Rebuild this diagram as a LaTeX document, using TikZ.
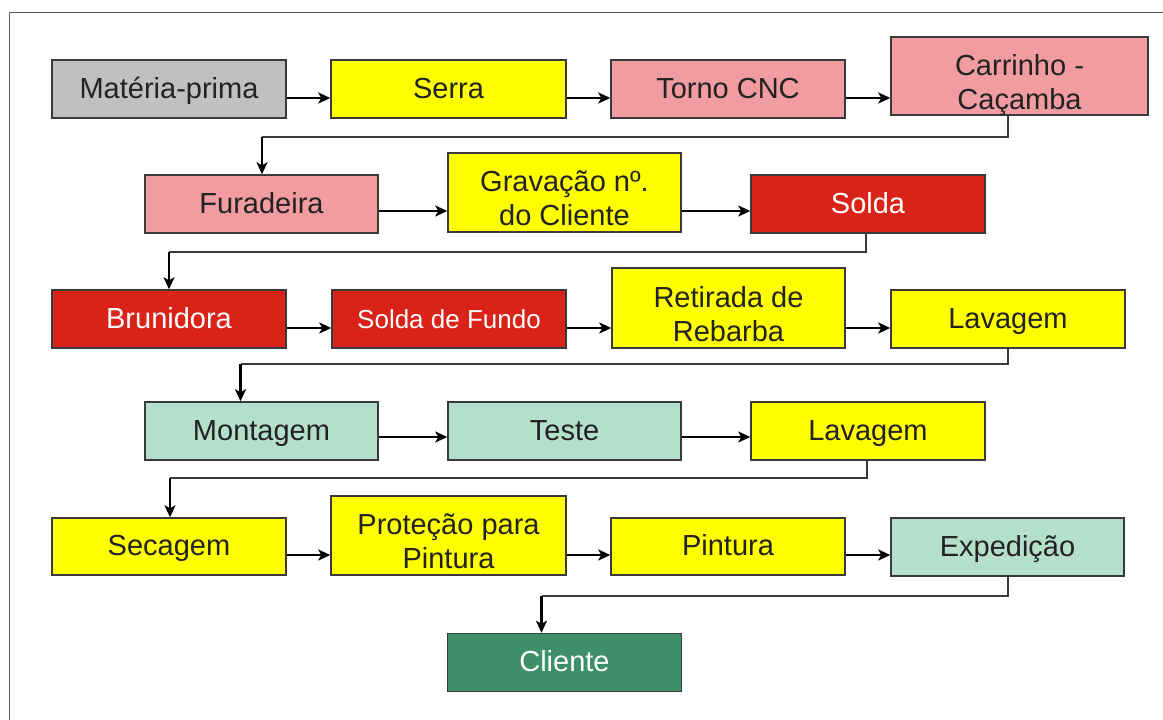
\documentclass[tikz,border=0pt]{standalone}
\usepackage{fontspec}
\setmainfont{Liberation Sans}
\usetikzlibrary{arrows.meta}
\definecolor{cgray}{HTML}{C0C0C0}
\definecolor{cyellow}{HTML}{FFFF00}
\definecolor{cpink}{HTML}{F09CA0}
\definecolor{cred}{HTML}{DA2318}
\definecolor{cmint}{HTML}{B5DFCD}
\definecolor{cgreen}{HTML}{3D8F68}
\definecolor{ctext}{HTML}{222222}
\definecolor{cline}{HTML}{3A3A3A}
\tikzset{
  box/.style={draw=cline, line width=1.5pt, minimum height=58pt, inner sep=0pt, text=ctext, align=center, font=\fontsize{29}{34}\selectfont, text height=22pt, text depth=4pt},
  twoline/.style={text height=70pt, text depth=4pt},
  wbox/.style={box, text=white},
  arr/.style={line width=2.5pt, black, -{Stealth[length=12pt,width=11pt,inset=3pt]}},
  conn/.style={line width=1.6pt, cline},
  frameline/.style={line width=1pt, draw=black!65}
}
\begin{document}
\begin{tikzpicture}[x=1pt,y=-1pt]
\useasboundingbox[fill=white] (0,0) rectangle (1163,720);
\draw[frameline] (9.5,720) -- (9.5,12) -- (1163,12);

% row 1
\node[box, fill=cgray, minimum width=234pt] (mp) at (169,89) {Matéria-prima};
\node[box, fill=cyellow, minimum width=235pt] (se) at (448.5,89) {Serra};
\node[box, fill=cpink, minimum width=234pt] (to) at (728,89) {Torno CNC};
\node[box, twoline, fill=cpink, minimum width=257pt, minimum height=78pt] (ca) at (1019.5,76) {Carrinho -\\Caçamba};
% row 2
\node[box, fill=cpink, minimum width=233pt] (fu) at (261.5,204) {Furadeira};
\node[box, twoline, fill=cyellow, minimum width=233pt, minimum height=79pt] (gr) at (564.5,192.5) {Gravação nº.\\do Cliente};
\node[wbox, fill=cred, minimum width=234pt] (so) at (868,204) {Solda};
% row 3
\node[wbox, fill=cred, minimum width=234pt] (br) at (169,319) {Brunidora};
\node[wbox, fill=cred, minimum width=234pt, font=\fontsize{26}{30}\selectfont] (sf) at (449,319) {Solda de Fundo};
\node[box, twoline, fill=cyellow, minimum width=233pt, minimum height=80pt] (re) at (728.5,308) {Retirada de\\Rebarba};
\node[box, fill=cyellow, minimum width=234pt] (la) at (1008,319) {Lavagem};
% row 4
\node[box, fill=cmint, minimum width=233pt] (mo) at (261.5,431) {Montagem};
\node[box, fill=cmint, minimum width=233pt] (te) at (564.5,431) {Teste};
\node[box, fill=cyellow, minimum width=234pt] (lb) at (868,431) {Lavagem};
% row 5
\node[box, fill=cyellow, minimum width=234pt, minimum height=57pt] (sc) at (169,546.5) {Secagem};
\node[box, twoline, fill=cyellow, minimum width=235pt, minimum height=79pt] (pr) at (448.5,535.5) {Proteção para\\Pintura};
\node[box, fill=cyellow, minimum width=234pt, minimum height=57pt] (pi) at (728,546.5) {Pintura};
\node[box, fill=cmint, minimum width=233pt] (ex) at (1007.5,547) {Expedição};
% row 6
\node[wbox, fill=cgreen, minimum width=234pt] (cl) at (564.5,662.5) {Cliente};

% row levels of the horizontal arrows
\coordinate (r1) at (0,98);
\coordinate (r2) at (0,211);
\coordinate (r3) at (0,328);
\coordinate (r4) at (0,437);
\coordinate (r5) at (0,555);

\draw[arr] (mp.east |- r1) -- (se.west |- r1);
\draw[arr] (se.east |- r1) -- (to.west |- r1);
\draw[arr] (to.east |- r1) -- (ca.west |- r1);
\draw[arr] (fu.east |- r2) -- (gr.west |- r2);
\draw[arr] (gr.east |- r2) -- (so.west |- r2);
\draw[arr] (br.east |- r3) -- (sf.west |- r3);
\draw[arr] (sf.east |- r3) -- (re.west |- r3);
\draw[arr] (re.east |- r3) -- (la.west |- r3);
\draw[arr] (mo.east |- r4) -- (te.west |- r4);
\draw[arr] (te.east |- r4) -- (lb.west |- r4);
\draw[arr] (sc.east |- r5) -- (pr.west |- r5);
\draw[arr] (pr.east |- r5) -- (pi.west |- r5);
\draw[arr] (pi.east |- r5) -- (ex.west |- r5);

% row-to-row connectors
\coordinate (t1a) at (1008,137); \coordinate (t1b) at (262,137);
\draw[conn] (ca.south -| t1a) -- (t1a) -- (t1b);
\draw[arr] (t1b) -- (fu.north -| t1b);

\coordinate (t2a) at (866,252); \coordinate (t2b) at (169,252);
\draw[conn] (so.south -| t2a) -- (t2a) -- (t2b);
\draw[arr] (t2b) -- (br.north -| t2b);

\coordinate (t3a) at (1008,364); \coordinate (t3b) at (240.5,364);
\draw[conn] (la.south -| t3a) -- (t3a) -- (t3b);
\draw[arr] (t3b) -- (mo.north -| t3b);

\coordinate (t4a) at (867,478); \coordinate (t4b) at (170,478);
\draw[conn] (lb.south -| t4a) -- (t4a) -- (t4b);
\draw[arr] (t4b) -- (sc.north -| t4b);

\coordinate (t5a) at (1008,596); \coordinate (t5b) at (541.5,596);
\draw[conn] (ex.south -| t5a) -- (t5a) -- (t5b);
\draw[arr] (t5b) -- (cl.north -| t5b);
\end{tikzpicture}
\end{document}
